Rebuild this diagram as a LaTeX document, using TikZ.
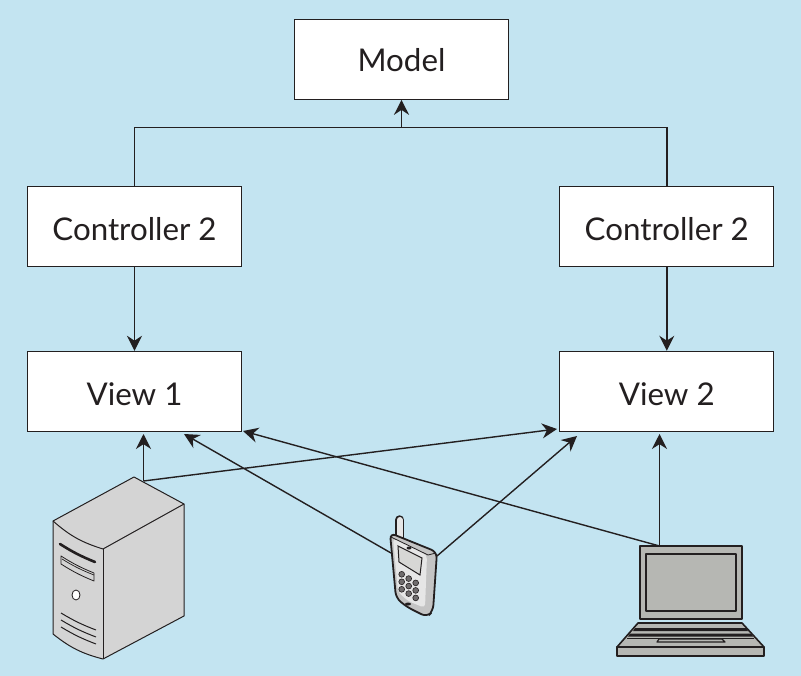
\documentclass[tikz,border=0pt]{standalone}
\usepackage{fontspec}
\setmainfont{Lato}
\usetikzlibrary{arrows.meta}
\definecolor{bgblue}{HTML}{C3E4F1}
\definecolor{linegray}{HTML}{231F20}
\definecolor{towergray}{HTML}{D4D4D4}
\definecolor{lapgray}{HTML}{B6B7B3}
\definecolor{phonegray}{HTML}{C4C4C4}
\definecolor{phonelight}{HTML}{E6E6E6}
\tikzset{
    box/.style={draw=linegray,fill=white,line width=1pt,minimum width=214pt,minimum height=80pt,inner sep=0pt,font=\fontsize{31.3}{36}\selectfont,text=linegray,text depth=0pt,text height=27.5pt},
    link/.style={draw=linegray,line width=1.4pt,-{Stealth[length=15pt,width=15pt]}},
    wire/.style={draw=linegray,line width=1.4pt},
    tower/.style={draw=linegray,fill=towergray,line width=1pt,line join=round},
    lap/.style={draw=linegray,fill=lapgray,line width=1.6pt,line join=round}
}

\begin{document}
\begin{tikzpicture}[x=1pt,y=-1pt]
    \fill[bgblue] (0,0) rectangle (801,676);
    \useasboundingbox (0,0) rectangle (801,676);

    \node[box,text height=24pt] (model) at (401.5,59.3) {Model};
    \node[box] (ctrlA) at (134.5,226.3) {Controller 2};
    \node[box] (ctrlB) at (666.8,226.3) {Controller 2};
    \node[box] (viewA) at (134.5,391.3) {View 1};
    \node[box] (viewB) at (666.8,391.3) {View 2};

    \coordinate (bus) at (401.5,127.5);
    \coordinate (towerTop) at (143.5,481);
    \coordinate (phoneL) at (391,553);
    \coordinate (phoneR) at (437,556);
    \coordinate (lapTop) at (659.5,546);
    \coordinate (inA) at (143.5,434);
    \coordinate (inB) at (184,434);
    \coordinate (inC) at (243,431);
    \coordinate (inD) at (557,429);
    \coordinate (inE) at (577,436);
    \coordinate (inF) at (659.5,434);

    \draw[wire] (ctrlA.north) |- (bus) -| (ctrlB.north);
    \draw[link] (bus) -- (model.south);
    \draw[link] (ctrlA.south) -- (viewA.north);
    \draw[link] (ctrlB.south) -- (viewB.north);

    \draw[link] (towerTop) -- (inA);
    \draw[link] (towerTop) -- (inD);
    \draw[link] (phoneL) -- (inB);
    \draw[link] (phoneR) -- (inE);
    \draw[link] (lapTop) -- (inC);
    \draw[link] (lapTop) -- (inF);

    % server
    \draw[tower] (134,477) -- (184,504) -- (184,616) -- (103,659) to[bend left=12] (53,634) -- (53,521) -- cycle;
    \draw[tower,fill=none] (53,521) to[bend right=12] (103,549) -- (184,504);
    \draw[tower,fill=none] (103,549) -- (103,659);
    \draw[linegray,line width=2.6pt,line cap=round] (60,544) to[bend right=5] (95,562);
    \draw[tower,line width=.8pt] (61,556) to[bend right=5] (94,573) -- (94,581) to[bend left=5] (61,564) -- cycle;
    \draw[linegray,line width=.7pt] (62,559) to[bend right=5] (94,575);
    \draw[linegray,line width=.8pt,fill=white] (76,595) ellipse (4pt and 5pt);
    \foreach \v in {613,620,627}{
        \draw[linegray,line width=1pt] (61,\v) to[bend right=5] (96,\v+17);
    }

    % phone
    \draw[linegray,line width=9.5pt,line cap=round] (399.7,520) -- (399.7,540);
    \draw[phonelight,line width=6pt,line cap=round] (399.7,520) -- (399.7,540);
    \draw[linegray,line width=1.8pt,fill=phonegray,rounded corners=6pt] (390,533) -- (437,552) -- (433,611) -- (427,617) -- (407,607) -- (396,598) -- cycle;
    \fill[phonelight,rounded corners=4pt] (393,538) -- (427,555) -- (425,608) -- (408,601) -- (398,592) -- cycle;
    \draw[linegray,line width=.8pt] (391,537) -- (428,555) -- (436,553);
    \draw[linegray,line width=1pt,fill=lapgray!55] (398,546) -- (422,558) -- (420,575) -- (399,562) -- cycle;
    \fill[linegray] (409,548) ellipse (2.5pt and 1.5pt);
    \fill[linegray] (408,604) ellipse (3pt and 1.5pt);
    \foreach \r in {0,1,2}{
        \foreach \c in {0,1,2}{
            \filldraw[fill=linegray!65,draw=linegray,line width=.6pt] (401.7+7*\c,574.3+7.5*\r+4.3*\c) circle (2.9pt);
        }
    }

    % laptop
    \draw[lap] (640,546) rectangle (742,619);
    \draw[lap] (646,554) rectangle (736,611);
    \draw[lap] (638,623) -- (742,623) -- (764,647) -- (617,647) -- cycle;
    \draw[lap] (617,647) rectangle (764,656);
    \fill[linegray] (635,628) -- (746,628) -- (748,631) -- (633,631) -- cycle;
    \fill[linegray] (630,633.5) -- (751,633.5) -- (753,636.5) -- (628,636.5) -- cycle;
    \draw[linegray,line width=.8pt] (627,638.5) -- (754,638.5);
    \draw[lap,line width=1.2pt] (659,639) -- (722,639) -- (725,642) -- (657,642) -- cycle;
\end{tikzpicture}
\end{document}
